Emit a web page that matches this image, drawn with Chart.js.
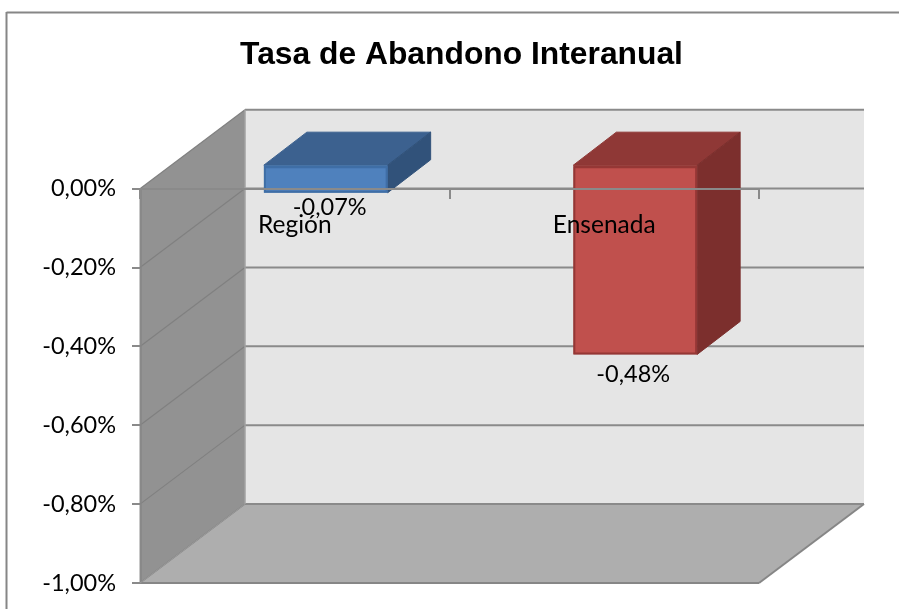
<!DOCTYPE html>
<html><head><meta charset="utf-8">
<style>html,body{margin:0;padding:0;background:#fff}canvas{display:block}</style>
<script src="https://cdn.jsdelivr.net/npm/chart.js@4"></script>
</head><body><canvas id="c" width="899" height="609"></canvas>
<script>
const categories = ['Región', 'Ensenada'];
const values = [-0.07, -0.48];
const valueLabels = ['-0,07%', '-0,48%'];
const labelGaps = [14.5, 19.5];
const labelShifts = [4, -2];
const frontColors = ['#4f81bd', '#c0504d'];
const edgeColors = ['#3f6ea6', '#953735'];
const topColors = ['#3c618f', '#8f3836'];
const sideColors = ['#31527a', '#7c2f2d'];
const titleText = 'Tasa de Abandono Interanual';
const yMin = -1, yMax = 0, yStep = 0.2;

const WALL_DX = 105, WALL_DY = -79;
const BAR_DX = 31, BAR_DY = -23.5;
const BAR_DEPTH_X = 43, BAR_DEPTH_Y = -33;
const GRID = '#8a8a8a';
const FONT = 'Lato, Carlito, Calibri, sans-serif';
const FONT_SIZE = 23.5;

function poly(ctx, pts, fill, stroke, w) {
  ctx.beginPath();
  pts.forEach((p, i) => i ? ctx.lineTo(p[0], p[1]) : ctx.moveTo(p[0], p[1]));
  ctx.closePath();
  if (fill) { ctx.fillStyle = fill; ctx.fill(); }
  if (stroke) { ctx.strokeStyle = stroke; ctx.lineWidth = w || 1; ctx.stroke(); }
}
function seg(ctx, x1, y1, x2, y2, c, w) {
  ctx.beginPath(); ctx.moveTo(x1, y1); ctx.lineTo(x2, y2);
  ctx.strokeStyle = c; ctx.lineWidth = w; ctx.stroke();
}

const scene3d = {
  id: 'scene3d',
  afterLayout(chart) {
    chart.titleBlock.left += 62; chart.titleBlock.right += 62;
  },
  beforeDraw(chart) {
    const ctx = chart.ctx, a = chart.chartArea, y = chart.scales.y;
    const L = a.left, R = a.right, T = a.top, B = a.bottom;
    const dx = WALL_DX, dy = WALL_DY;
    ctx.save();
    ctx.fillStyle = '#fff'; ctx.fillRect(0, 0, chart.width, chart.height);
    seg(ctx, 6.5, 12.5, chart.width, 12.5, '#868686', 2);
    seg(ctx, 6.5, 12, 6.5, chart.height, '#868686', 2);
    poly(ctx, [[L+dx,T+dy],[R+dx,T+dy],[R+dx,B+dy],[L+dx,B+dy]], '#e5e5e5');
    poly(ctx, [[L,T],[L+dx,T+dy],[L+dx,B+dy],[L,B]], '#929292');
    poly(ctx, [[L,B],[L+dx,B+dy],[R+dx,B+dy],[R,B]], '#aeaeae');
    y.ticks.forEach(t => {
      const py = y.getPixelForValue(t.value);
      seg(ctx, L, py, L+dx, py+dy, '#808080', 1.2);
      seg(ctx, L+dx, py+dy, R+dx, py+dy, GRID, 2);
    });
    seg(ctx, L+dx, T+dy, L+dx, B+dy, '#a2a2a2', 1.5);
    seg(ctx, L-0.5, T, L-0.5, B, '#c8c8c8', 1);
    seg(ctx, L+1, T, L+1, B, '#868686', 1.5);
    seg(ctx, L, B, R, B, '#868686', 2);
    seg(ctx, R, B, R+dx, B+dy, '#868686', 2);
    seg(ctx, L, B, L+dx, B+dy, '#9a9a9a', 1);
    ctx.restore();
  },
  beforeDatasetsDraw(chart) {
    const ctx = chart.ctx, meta = chart.getDatasetMeta(0);
    const base = chart.scales.y.getPixelForValue(0);
    ctx.save();
    ctx.translate(BAR_DX, BAR_DY);
    const dx = BAR_DEPTH_X, dy = BAR_DEPTH_Y;
    meta.data.forEach((bar, i) => {
      const p = bar.getProps(['x', 'y', 'width'], true);
      const l = p.x - p.width/2, r = p.x + p.width/2;
      poly(ctx, [[l,base],[l+dx,base+dy],[r+dx,base+dy],[r,base]], topColors[i], topColors[i], 1);
      poly(ctx, [[r,base],[r+dx,base+dy],[r+dx,p.y+dy],[r,p.y]], sideColors[i], sideColors[i], 1);
      poly(ctx, [[l,base],[r,base],[r,p.y],[l,p.y]], edgeColors[i]);
    });
  },
  afterDatasetsDraw(chart) {
    chart.ctx.restore();
    const ctx = chart.ctx, meta = chart.getDatasetMeta(0);
    ctx.save();
    ctx.font = FONT_SIZE + 'px ' + FONT;
    ctx.fillStyle = '#000';
    ctx.textAlign = 'center';
    ctx.textBaseline = 'middle';
    meta.data.forEach((bar, i) => {
      const p = bar.getProps(['x', 'y'], true);
      ctx.fillText(valueLabels[i], p.x + BAR_DX + labelShifts[i], p.y + BAR_DY + labelGaps[i]);
    });
    ctx.restore();
  }
};

new Chart(document.getElementById('c'), {
  type: 'bar',
  data: {
    labels: categories,
    datasets: [{
      data: values,
      backgroundColor: frontColors,
      borderColor: edgeColors,
      borderWidth: 2,
      borderSkipped: false,
      clip: false,
      categoryPercentage: 1,
      barPercentage: 0.4
    }]
  },
  options: {
    responsive: false,
    animation: false,
    layout: { padding: { left: 40, right: 140, top: 0, bottom: 26 } },
    plugins: {
      legend: { display: false },
      tooltip: { enabled: false },
      title: {
        display: true,
        text: titleText,
        color: '#000',
        font: { family: 'Liberation Sans, Arial, sans-serif', size: 31.8, weight: 'bold', lineHeight: 1.2 },
        padding: { top: 36, bottom: 114.5 }
      }
    },
    scales: {
      x: {
        position: { y: 0 },
        offset: true,
        grid: { display: true, drawOnChartArea: false, drawTicks: true, tickLength: 9, color: GRID, lineWidth: 2, z: 1, offset: true },
        border: { display: true, color: GRID, width: 2, z: 1 },
        ticks: { color: '#000', font: { family: FONT, size: 24.5 }, padding: 13, z: 1, maxRotation: 0 }
      },
      y: {
        min: yMin, max: yMax,
        afterFit(s) { s.width = 100; s.paddingTop = 0; s.paddingBottom = 0; },
        grid: { display: true, drawOnChartArea: false, tickLength: 8, color: GRID, lineWidth: 2 },
        border: { display: false },
        ticks: {
          stepSize: yStep,
          color: '#000',
          font: { family: FONT, size: FONT_SIZE },
          padding: 16,
          callback: v => v.toFixed(2).replace('.', ',') + '%'
        }
      }
    }
  },
  plugins: [scene3d]
});
</script></body></html>
